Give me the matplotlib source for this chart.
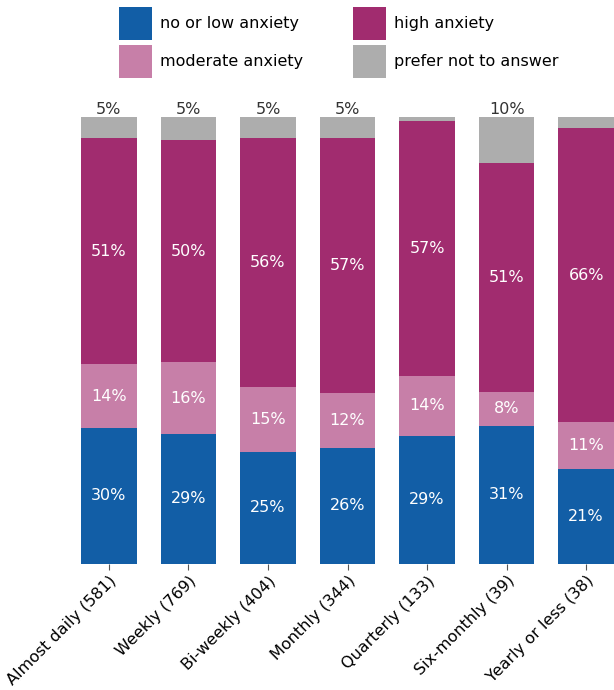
import matplotlib
matplotlib.use("Agg")
import matplotlib.pyplot as plt
import numpy as np

# data (percent of respondents)
categories = ["Almost daily (581)", "Weekly (769)", "Bi-weekly (404)", "Monthly (344)",
              "Quarterly (133)", "Six-monthly (39)", "Yearly or less (38)"]
low_anx = [30.3, 29.0, 25.0, 25.9, 28.6, 30.8, 21.1]
moderate_anx = [14.3, 16.1, 14.6, 12.3, 13.5, 7.7, 10.53]
high_anx = [50.6, 49.7, 55.8, 57.1, 57.1, 51.3, 65.8]
no_answer = [4.8, 5.2, 4.6, 4.7, 0.8, 10.2, 2.57]

series = [
    ("no or low anxiety", low_anx, "#125ea6"),
    ("moderate anxiety", moderate_anx, "#c77fa8"),
    ("high anxiety", high_anx, "#a12c6f"),
    ("prefer not to answer", no_answer, "#adadad"),
]

FS = 11.5

fig = plt.figure(figsize=(6.14, 6.9), dpi=100)
W, H = 614, 690
ax = fig.add_axes([81 / W, (H - 563.5) / H, (614 - 81) / W, (563.5 - 117) / H])

x = np.arange(len(categories))
bottom = np.zeros(len(categories))
handles = {}
for name, vals, col in series:
    vals = np.array(vals)
    bars = ax.bar(x, vals, 0.7, bottom=bottom, color=col, label=name)
    handles[name] = bars
    for xi, b, v in zip(x, bottom, vals):
        if v < 4:
            continue
        txt = f"{int(v + 0.5)}%"
        if name == "prefer not to answer":
            ax.text(xi, 100, txt, ha="center", va="bottom",
                    color="#333333", fontsize=FS, clip_on=False)
        else:
            ax.text(xi, b + v / 2, txt, ha="center", va="center",
                    color="white", fontsize=FS)
    bottom += vals

ax.set_xlim(-0.35, 6.35)
ax.set_ylim(0, 100)
ax.set_xticks(x)
ax.set_xticklabels(categories, rotation=45, ha="right", rotation_mode="anchor", fontsize=FS)
ax.tick_params(axis="x", length=4, color="#555555", pad=3)
ax.set_yticks([])
for s in ax.spines.values():
    s.set_visible(False)

order = ["no or low anxiety", "moderate anxiety", "high anxiety", "prefer not to answer"]
fig.legend([handles[k] for k in order], order, loc="upper left",
           bbox_to_anchor=(119 / W, 1 - 7 / H), ncol=2, frameon=False,
           fontsize=FS, handlelength=2.07, handleheight=2.8, handletextpad=0.5,
           columnspacing=3.1, labelspacing=0.3, borderpad=0, borderaxespad=0)

fig.savefig("out.png", dpi=100)
